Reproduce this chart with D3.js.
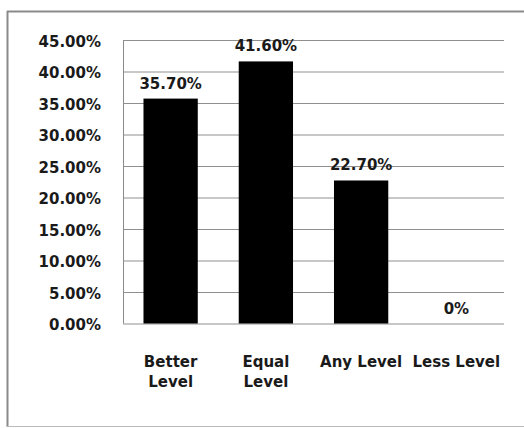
<!DOCTYPE html>
<html>
<head>
<meta charset="utf-8">
<script src="https://cdn.jsdelivr.net/npm/d3@7"></script>
<style>
  html, body { margin: 0; padding: 0; background: #fff; }
  svg { display: block; }
  text { font-family: "DejaVu Sans", sans-serif; font-weight: bold; font-size: 15px; fill: #1a1a1a; }
</style>
</head>
<body>
<svg id="chart" width="524" height="428"></svg>
<script>
  var categories = ['Better Level', 'Equal Level', 'Any Level', 'Less Level'];
  var categoryLines = [['Better', 'Level'], ['Equal', 'Level'], ['Any Level'], ['Less Level']];
  var values = [35.7, 41.6, 22.7, 0];
  var valueLabels = ['35.70%', '41.60%', '22.70%', '0%'];
  var yTicks = [0, 5, 10, 15, 20, 25, 30, 35, 40, 45];

  var svg = d3.select('#chart');
  var plot = { left: 123, right: 504, top: 40, bottom: 323.5 };

  // outer chart border (right edge runs off the picture)
  svg.append('line').attr('x1', 7).attr('y1', 11.5).attr('x2', 524).attr('y2', 11.5)
    .attr('stroke', '#8a8a8a').attr('stroke-width', 2);
  svg.append('line').attr('x1', 7.5).attr('y1', 11).attr('x2', 7.5).attr('y2', 427)
    .attr('stroke', '#8a8a8a').attr('stroke-width', 2);
  svg.append('line').attr('x1', 7).attr('y1', 426.5).attr('x2', 524).attr('y2', 426.5)
    .attr('stroke', '#bbbbbb').attr('stroke-width', 1);

  var x = d3.scaleBand()
    .domain(categories)
    .range([plot.left, plot.right])
    .paddingInner(0.43)
    .paddingOuter(0.215);

  var y = d3.scaleLinear()
    .domain([0, 45])
    .range([plot.bottom, plot.top]);

  var yAxis = d3.axisLeft(y)
    .tickValues(yTicks)
    .tickSize(plot.left - plot.right)
    .tickPadding(22)
    .tickFormat(function(d) { return d.toFixed(2) + '%'; });

  var gy = svg.append('g')
    .attr('transform', 'translate(' + plot.left + ',0)')
    .call(yAxis);
  gy.select('.domain').attr('stroke', '#8a8a8a').attr('d', 'M0.5,' + plot.top + 'V' + plot.bottom);
  gy.selectAll('.tick line').attr('stroke', '#8f8f8f').attr('stroke-width', 1);
  gy.selectAll('.tick text')
    .attr('font-family', null).attr('font-size', null)
    .attr('fill', '#1a1a1a')
    .attr('dy', '0.42em');

  svg.selectAll('rect.bar')
    .data(values)
    .enter()
    .append('rect')
    .attr('class', 'bar')
    .attr('x', function(d, i) { return x(categories[i]); })
    .attr('y', function(d) { return y(d); })
    .attr('width', x.bandwidth())
    .attr('height', function(d) { return y(0) - y(d); })
    .attr('fill', '#000');

  svg.selectAll('text.value')
    .data(values)
    .enter()
    .append('text')
    .attr('class', 'value')
    .attr('text-anchor', 'middle')
    .attr('x', function(d, i) { return x(categories[i]) + x.bandwidth() / 2; })
    .attr('y', function(d) { return y(d) - 10; })
    .text(function(d, i) { return valueLabels[i]; });

  var cat = svg.selectAll('text.cat')
    .data(categoryLines)
    .enter()
    .append('text')
    .attr('class', 'cat')
    .attr('text-anchor', 'middle')
    .attr('x', function(d, i) { return x(categories[i]) + x.bandwidth() / 2; })
    .attr('y', 367);
  cat.selectAll('tspan')
    .data(function(d) { return d; })
    .enter()
    .append('tspan')
    .attr('x', function() { return this.parentNode.getAttribute('x'); })
    .attr('dy', function(d, i) { return i === 0 ? 0 : 20; })
    .text(function(d) { return d; });
</script>
</body>
</html>
